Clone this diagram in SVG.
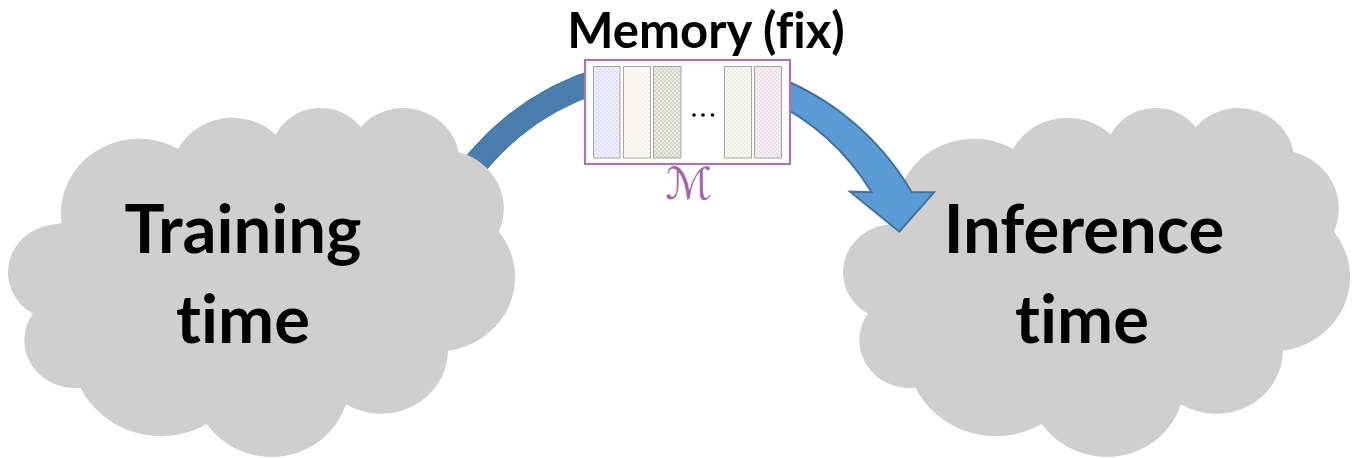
<svg xmlns="http://www.w3.org/2000/svg" width="1358" height="458" viewBox="0 0 1358 458">
  <style>
    .cloud { fill: #D0CECF; stroke: none; }
    .big { font-family: Lato, "Open Sans", "Liberation Sans", sans-serif; font-weight: 700; font-size: 67px; fill: #000; text-anchor: middle; font-variant-ligatures: none; }
    .title { font-family: Lato, "Open Sans", "Liberation Sans", sans-serif; font-weight: 700; font-size: 49px; fill: #000; text-anchor: middle; font-variant-ligatures: none; }
    .slot { stroke: #A6A6A6; stroke-width: 1; }
    .band-dark { fill: #4A7DAD; stroke: #41719C; stroke-width: 1; }
    .band-light { fill: #5B9BD5; stroke: #41719C; stroke-width: 2; stroke-linejoin: miter; }
  </style>
  <defs>
    <!-- cloud outline in a 43200-unit design grid -->
    <path id="cloudShape" d="M 3900 14370 A 6753 9190 0 0 1 14005 5202 A 5333 7267 0 0 1 22456 3433 A 4365 5945 0 0 1 29834 2482 A 4857 6595 0 0 1 38319 5577 A 5333 7273 0 0 1 41819 15461 A 6775 9220 0 0 1 37405 30204 A 5785 7867 0 0 1 28558 36815 A 6752 9215 0 0 1 16483 39268 A 7720 10543 0 0 1 5537 34773 A 4360 5918 0 0 1 1400 25616 A 4345 5945 0 0 1 3208 14565 Z"/>
    <!-- light checker textures for the memory slots -->
    <pattern id="texBlue" width="4" height="4" patternUnits="userSpaceOnUse">
      <rect width="4" height="4" fill="#EEF0FD"/>
      <rect width="2" height="2" fill="#DFE2F8"/>
      <rect x="2" y="2" width="2" height="2" fill="#DFE2F8"/>
    </pattern>
    <pattern id="texCream" width="4" height="4" patternUnits="userSpaceOnUse">
      <rect width="4" height="4" fill="#FEFBF8"/>
      <rect width="2" height="2" fill="#FAF1EA"/>
      <rect x="2" y="2" width="2" height="2" fill="#FAF1EA"/>
    </pattern>
    <pattern id="texSage" width="4" height="4" patternUnits="userSpaceOnUse">
      <rect width="4" height="4" fill="#E8ECE3"/>
      <rect width="2" height="2" fill="#D2D9CB"/>
      <rect x="2" y="2" width="2" height="2" fill="#D2D9CB"/>
    </pattern>
    <pattern id="texGreen" width="4" height="4" patternUnits="userSpaceOnUse">
      <rect width="4" height="4" fill="#F5F9F1"/>
      <rect width="2" height="2" fill="#E9F0E3"/>
      <rect x="2" y="2" width="2" height="2" fill="#E9F0E3"/>
    </pattern>
    <pattern id="texPink" width="4" height="4" patternUnits="userSpaceOnUse">
      <rect width="4" height="4" fill="#F9F0F7"/>
      <rect width="2" height="2" fill="#F0DDEC"/>
      <rect x="2" y="2" width="2" height="2" fill="#F0DDEC"/>
    </pattern>
  </defs>

  <rect width="1358" height="458" fill="#FFFFFF"/>

  <!-- inference cloud sits under the incoming arrow -->
  <g id="inference">
    <use href="#cloudShape" class="cloud" transform="matrix(0.011531 0 0 0.008075 851.64 106.86)"/>
    <text class="big" x="1084" y="253">Inference</text>
    <text class="big" x="1082" y="343">time</text>
  </g>

  <g id="connectors">
    <!-- curved band leaving the training cloud -->
    <path class="band-dark" d="M 440 195 A 269 269 0 0 1 600 67.7 L 600 92.8 A 245 245 0 0 0 460 208.5 Z"/>
    <!-- curved arrow into the inference cloud -->
    <path class="band-light" d="M 770 74.3 A 269 269 0 0 1 911.7 192.3 L 934 192.3 L 899.3 231.7 L 850 191.7 L 871.7 192.3 A 245 245 0 0 0 770 100.2 Z"/>
  </g>

  <!-- training cloud covers the start of the band -->
  <g id="training">
    <use href="#cloudShape" class="cloud" transform="matrix(0.011531 0 0 0.008075 16.64 106.86)"/>
    <text class="big" x="243" y="253">Training</text>
    <text class="big" x="243" y="343">time</text>
  </g>

  <g id="memory">
    <text class="title" x="706" y="48">Memory (fix)</text>
    <rect x="585" y="60" width="205" height="104" fill="#FFFFFF" stroke="#A678AE" stroke-width="2.2"/>
    <rect class="slot" x="593.5" y="66.5" width="26.5" height="91.5" fill="url(#texBlue)"/>
    <rect class="slot" x="623.5" y="66.5" width="27" height="91.5" fill="url(#texCream)"/>
    <rect class="slot" x="653.5" y="66.5" width="27.5" height="91.5" fill="url(#texSage)"/>
    <circle cx="694" cy="115" r="1.8" fill="#000"/>
    <circle cx="703" cy="115" r="1.8" fill="#000"/>
    <circle cx="712.5" cy="115" r="1.8" fill="#000"/>
    <rect class="slot" x="724.5" y="66.5" width="27" height="91.5" fill="url(#texGreen)"/>
    <rect class="slot" x="754.5" y="66.5" width="27" height="91.5" fill="url(#texPink)"/>
    <text x="689" y="199" font-family="'DejaVu Sans', 'Noto Sans', sans-serif" font-size="44" fill="#A066AA" text-anchor="middle">ℳ</text>
  </g>
</svg>
